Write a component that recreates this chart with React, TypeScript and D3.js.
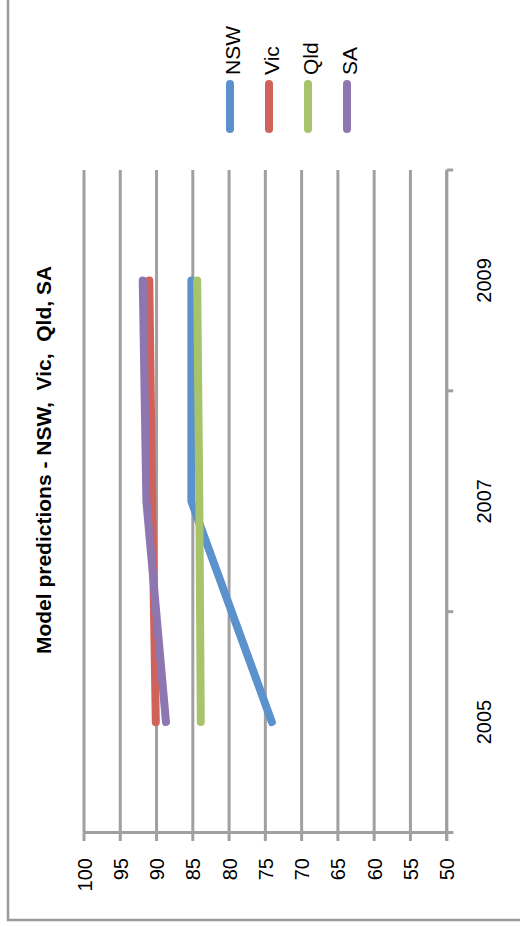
import React from "react";
import * as d3 from "d3";

// Years along the category axis
const yearExtent = [2004, 2010];
const yearTicks = [2004, 2006, 2008, 2010];
const yearLabels = [2005, 2007, 2009];
const dataYears = [2005, 2007, 2009];

// Predicted values per state
const nsw = [74.1, 85.2, 85.2];
const vic = [90.1, 90.6, 91.0];
const qld = [83.9, 84.1, 84.4];
const sa = [88.7, 91.4, 91.9];

const seriesNames = ["NSW", "Vic", "Qld", "SA"];
const seriesValues = [nsw, vic, qld, sa];
const seriesColors = ["#5B91CC", "#D0625C", "#A8C46A", "#8E76B1"];

const valueTicks = [50, 55, 60, 65, 70, 75, 80, 85, 90, 95, 100];
const valueExtent = [50, 100];

const title = "Model predictions - NSW,  Vic,  Qld, SA";

const W = 520;
const H = 926;
const FONT = "'Liberation Sans', Arial, Helvetica, sans-serif";
const GRID = "#A0A0A0";

export default function App() {
  // The chart is laid out landscape (width H, height W) and turned a quarter turn.
  const x = d3.scaleLinear().domain(yearExtent).range([93.5, 756]);
  const y = d3.scaleLinear().domain(valueExtent).range([446.7, 84]);
  const line = d3
    .line<[number, number]>()
    .x((d) => x(d[0]))
    .y((d) => y(d[1]));

  const x0 = x(yearExtent[0]);
  const x1 = x(yearExtent[1]);
  const yBase = y(valueExtent[0]);
  const yTop = y(valueExtent[1]);

  const legendX0 = 797;
  const legendX1 = 842;
  const legendY = [230, 269, 308, 347];

  return (
    <svg
      width={W}
      height={H}
      style={{ position: "absolute", left: 0, top: 0, display: "block" }}
    >
      <rect width={W} height={H} fill="#ffffff" />
      <g transform={`translate(0,${H}) rotate(-90)`} fontFamily={FONT}>
        {/* chart border */}
        <rect x={6} y={8} width={1000} height={700} fill="none" stroke="#999999" strokeWidth={2.5} />

        {/* gridlines */}
        {valueTicks.map((v) => (
          <line key={"g" + v} x1={x0} x2={x1} y1={y(v)} y2={y(v)} stroke={GRID} strokeWidth={3} />
        ))}

        {/* value axis */}
        <line x1={x0} x2={x0} y1={yTop} y2={yBase + 6.5} stroke={GRID} strokeWidth={3} />
        {valueTicks.map((v) => (
          <line key={"t" + v} x1={x0 - 8.5} x2={x0} y1={y(v)} y2={y(v)} stroke={GRID} strokeWidth={3} />
        ))}
        {valueTicks.map((v) => (
          <text key={"l" + v} x={68} y={y(v) + 7.5} textAnchor="end" fontSize={20} fill="#000">
            {v}
          </text>
        ))}

        {/* category axis */}
        <line x1={x0 - 8.5} x2={x1} y1={yBase} y2={yBase} stroke={GRID} strokeWidth={3} />
        {yearTicks.map((t) => (
          <line key={"ct" + t} x1={x(t)} x2={x(t)} y1={yBase} y2={yBase + 6.5} stroke={GRID} strokeWidth={3} />
        ))}
        {yearLabels.map((t) => (
          <text key={"cl" + t} x={x(t)} y={491} textAnchor="middle" fontSize={20} fill="#000">
            {t}
          </text>
        ))}

        {/* series */}
        {seriesValues.map((vals, i) => (
          <path
            key={seriesNames[i]}
            d={line(vals.map((v, j) => [dataYears[j], v]) as [number, number][]) || ""}
            fill="none"
            stroke={seriesColors[i]}
            strokeWidth={8}
            strokeLinecap="round"
            strokeLinejoin="round"
          />
        ))}

        {/* title */}
        <text
          x={466}
          y={51}
          textAnchor="middle"
          fontSize={21}
          fontWeight="bold"
          fill="#000"
          style={{ whiteSpace: "pre" }}
        >
          {title}
        </text>

        {/* legend */}
        {seriesNames.map((name, i) => (
          <g key={"lg" + name}>
            <line
              x1={legendX0}
              x2={legendX1}
              y1={legendY[i]}
              y2={legendY[i]}
              stroke={seriesColors[i]}
              strokeWidth={8}
              strokeLinecap="round"
            />
            <text x={851} y={legendY[i] + 10} fontSize={21} fill="#000">
              {name}
            </text>
          </g>
        ))}
      </g>
    </svg>
  );
}
